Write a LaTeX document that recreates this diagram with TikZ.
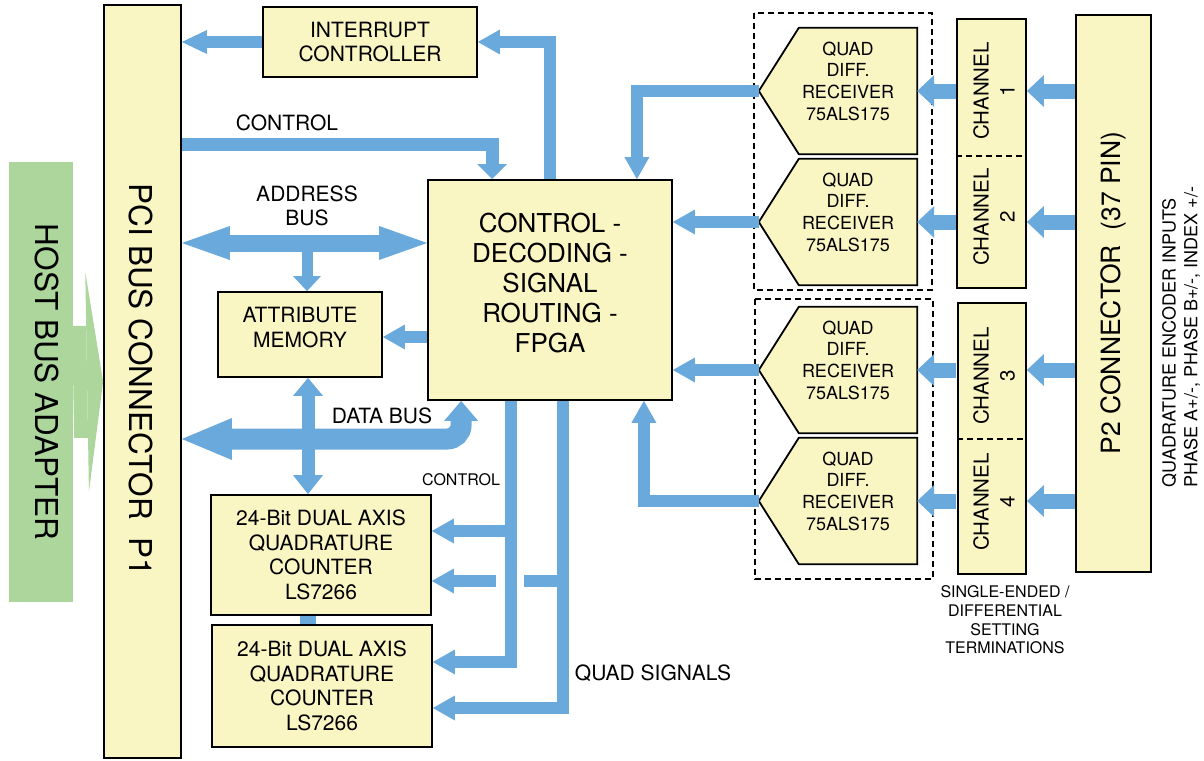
\documentclass[tikz,border=0pt]{standalone}
\usepackage{fontspec}
\setmainfont{TeX Gyre Heros}
\usetikzlibrary{arrows.meta, calc}
\definecolor{busblue}{RGB}{106,169,220}
\definecolor{boxfill}{RGB}{250,246,196}
\definecolor{hostgreen}{RGB}{172,214,156}
\newcommand{\fsz}[2]{\fontsize{#1}{#2}\selectfont}

\begin{document}
\begin{tikzpicture}[
  x=1pt, y=-1pt,
  blk/.style    = {draw, line width=1.8pt, fill=boxfill, inner sep=0pt},
  txt/.style    = {font=\fsz{21pt}{24.5pt}, align=center, inner sep=0pt},
  bigtxt/.style = {font=\fsz{31.5pt}{36pt}, inner sep=0pt},
  smtxt/.style  = {font=\fsz{16pt}{18.6pt}, align=center, inner sep=0pt},
  rxtxt/.style  = {font=\fsz{18pt}{21.7pt}, align=center, inner sep=0pt},
  rxbody/.style = {minimum width=118pt, minimum height=126pt, inner sep=0pt},
  rxline/.style = {draw, line width=1.8pt, fill=boxfill, line join=miter},
  grp/.style    = {draw, line width=1.4pt, dash pattern=on 6pt off 4pt},
  sig/.style    = {draw=busblue, line width=12pt, -{Triangle[length=22pt, width=25pt, line width=0pt]}},
  sigc/.style   = {draw=busblue, line width=13pt, -{Triangle[length=15pt, width=30pt, line width=0pt]}},
  sigr/.style   = {draw=busblue, line width=15pt, -{Triangle[length=17pt, width=32pt, line width=0pt]}},
  tap/.style    = {draw=busblue, line width=11pt, -{Triangle[length=15pt, width=28pt, line width=0pt]}},
  abusarr/.style= {draw=busblue, line width=17pt,
                   {Triangle[length=48pt, width=34pt, line width=0pt]}-{Triangle[length=48pt, width=34pt, line width=0pt]}},
  dbusarr/.style= {draw=busblue, line width=21pt, rounded corners=14pt,
                   {Triangle[length=50pt, width=42pt, line width=0pt]}-{Triangle[length=20pt, width=34pt, line width=0pt]}},
  dvert/.style  = {draw=busblue, line width=13pt,
                   {Triangle[length=18pt, width=30pt, line width=0pt]}-{Triangle[length=19pt, width=30pt, line width=0pt]}},
  link/.style   = {draw=busblue, line width=16pt},
  hostarr/.style= {draw=hostgreen, line width=112pt, -{Triangle[length=16pt, width=220pt, line width=0pt]}},
]
\useasboundingbox (0,0) rectangle (1204,760);

% =============== host side ===============
\node[fill=hostgreen, minimum width=64pt, minimum height=440pt] (host) at (41,382) {};
\node[bigtxt, rotate=-90] (hostlbl) at (47,382) {HOST BUS ADAPTER};
\node[blk, minimum width=77pt, minimum height=753pt] (pci) at (142.5,381.5) {};
\node[bigtxt, rotate=-90] (pcilbl) at (141,380) {PCI BUS CONNECTOR~~P1};
\draw[hostarr] (host.east) -- (pci.west);

% =============== board blocks ===============
\node[blk, txt, minimum width=214pt, minimum height=70pt] (intr) at (370,42) {INTERRUPT\\CONTROLLER};
\node[blk, txt, font=\fsz{26pt}{30pt}, text depth=14pt, minimum width=244pt, minimum height=220pt]
  (fpga) at (550,290) {CONTROL -\\DECODING -\\SIGNAL\\ROUTING -\\FPGA};
\node[blk, txt, text depth=14pt, minimum width=164pt, minimum height=85pt] (attr) at (300,334.5) {ATTRIBUTE\\MEMORY};
\node[blk, txt, minimum width=220pt, minimum height=120pt] (cnt1) at (321,555)
  {24-Bit DUAL AXIS\\QUADRATURE\\COUNTER\\LS7266};
\node[blk, txt, minimum width=220pt, minimum height=122pt] (cnt2) at (322,686)
  {24-Bit DUAL AXIS\\QUADRATURE\\COUNTER\\LS7266};

% buses to the PCI connector
\draw[sig, -{Triangle[length=25pt, width=24pt, line width=0pt]}] (intr.west) -- (intr.west -| pci.east);
\draw[sig] (fpga.north) |- (intr.east);

\coordinate (ctl) at (300,144);
\draw[sigc] (pci.east |- ctl) -| ($(fpga.north west)+(65,0)$);
\node[txt] (ctllbl) at (287,123) {CONTROL};

\coordinate (abus) at (300,243);
\coordinate (atap) at (307,250);
\draw[tap] (atap) -- (atap |- attr.north);
\draw[abusarr] (pci.east |- abus) -- (fpga.west |- abus);
\node[txt] (abuslbl) at (307,206) {ADDRESS\\BUS};

\coordinate (amem) at (400,337);
\draw[sig] (fpga.west |- amem) -- (attr.east |- amem);

\coordinate (dbus) at (300,439);
\coordinate (dtap) at (308,439);
\draw[dvert] (dtap |- attr.south) -- (dtap |- cnt1.north);
\draw[dbusarr] (pci.east |- dbus) -| ($(fpga.south west)+(34,0)$);
\node[txt] (dbuslbl) at (382,416) {DATA BUS};
\draw[link] (cnt1.south -| dtap) -- (cnt2.north -| dtap);

% control and quad signals down to the counters
\coordinate (lctl) at (511,662);
\coordinate (lctl1) at (511,531);
\draw[sig] (lctl |- fpga.south) |- (cnt2.east |- lctl);
\draw[sig] (lctl1) -- (lctl1 -| cnt1.east);
\node[smtxt] (lctllbl) at (461,480) {CONTROL};

\coordinate (quad) at (563,708);
\coordinate (qa) at (563,581);
\coordinate (qb) at (524,581);
\coordinate (qc) at (496,581);
\draw[sig] (quad |- fpga.south) |- (cnt2.east |- quad);
\draw[sig, -] (qa) -- (qb);
\draw[sig] (qc) -- (qc -| cnt1.east);
\node[txt] (quadlbl) at (653,673) {QUAD SIGNALS};

% =============== receivers, channels, P2 ===============
\draw[grp] (754,13) rectangle (932,290);
\draw[grp] (755,299) rectangle (933,579);

\foreach \i/\y in {1/91, 2/222, 3/370, 4/501} {
  \node[rxbody] (rx\i) at (858,\y) {};
  \coordinate (rxt\i) at ($(rx\i.west)+(-40,0)$);
  \draw[rxline] (rxt\i) -- (rx\i.north west) -- (rx\i.north east) -- (rx\i.south east) -- (rx\i.south west) -- cycle;
  \node[rxtxt] (rxl\i) at (848,\y-10) {QUAD\\DIFF.\\RECEIVER\\75ALS175};
}

\node[blk, minimum width=69pt, minimum height=269pt] (chA) at (991.5,153.5) {};
\node[blk, minimum width=68pt, minimum height=271pt] (chB) at (992,438.5) {};
\coordinate (divA) at (990,156);
\coordinate (divB) at (990,439);
\draw[grp] (chA.west |- divA) -- (chA.east |- divA);
\draw[grp] (chB.west |- divB) -- (chB.east |- divB);
\foreach \i/\y in {1/91, 2/217, 3/376, 4/502}
  \node[txt, font=\fsz{20.5pt}{26pt}, rotate=90] (ch\i) at (994,\y) {CHANNEL\\\i};

\node[blk, minimum width=75pt, minimum height=557pt] (p2) at (1113.5,293.5) {};
\node[txt, font=\fsz{26.5pt}{30pt}, rotate=90] (p2lbl) at (1113,293) {P2 CONNECTOR~~(37 PIN)};

\foreach \i in {1,...,4} {
  \draw[sigr] (rx\i.east -| p2.west) -- (rx\i.east -| chA.east);
  \draw[sigr] (rx\i.east -| chA.west) -- (rx\i.east);
}

% receiver outputs into the FPGA
\draw[sig] (rxt1) -| ($(fpga.north east)+(-36,0)$);
\draw[sig] (rxt2) -- (rxt2 -| fpga.east);
\draw[sig] (rxt3) -- (rxt3 -| fpga.east);
\draw[sig] (rxt4) -| ($(fpga.south east)+(-29,0)$);

\node[smtxt] (termlbl) at (1005,620) {SINGLE-ENDED /\\DIFFERENTIAL\\SETTING\\TERMINATIONS};
\node[rxtxt, align=left, rotate=90] (enclbl) at (1181,337)
  {QUADRATURE ENCODER INPUTS\\PHASE A+/-, PHASE B+/-, INDEX +/-};

\end{tikzpicture}
\end{document}
